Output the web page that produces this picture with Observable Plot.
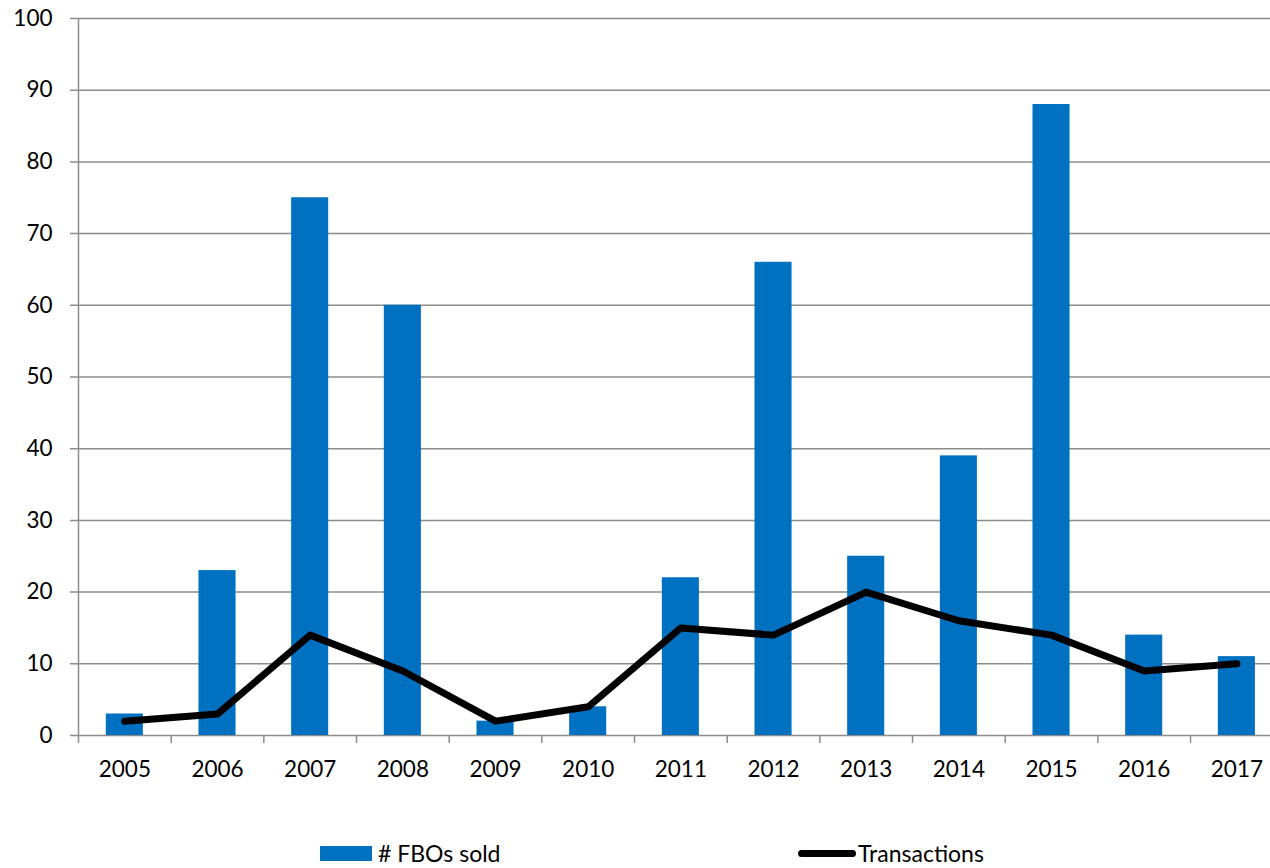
<!DOCTYPE html>
<html>
<head>
<meta charset="utf-8">
<script src="https://cdn.jsdelivr.net/npm/d3@7"></script>
<script src="https://cdn.jsdelivr.net/npm/@observablehq/plot@0.6"></script>
<style>
  html, body { margin: 0; padding: 0; background: #fff; }
  body { width: 1270px; height: 868px; position: relative; overflow: hidden; font-family: Lato, "Open Sans", sans-serif; }
  #chart { position: absolute; left: 0; top: 0; }
  #legend { position: absolute; left: 0; top: 838px; width: 1270px; height: 30px; font-size: 23px; color: #000; }
  .item { position: absolute; top: 0; display: flex; align-items: center; height: 30px; }
  .sw-bar { width: 52px; height: 15px; background: #0070C0; margin-right: 6px; }
  .sw-line { width: 58px; height: 7px; background: #000; border-radius: 4px; margin-right: 2px; }
</style>
</head>
<body>
<div id="chart"></div>
<div id="legend">
  <div class="item" style="left:320px"><div class="sw-bar"></div><span id="l1"></span></div>
  <div class="item" style="left:798px"><div class="sw-line"></div><span id="l2"></span></div>
</div>
<script>
const years = ["2005","2006","2007","2008","2009","2010","2011","2012","2013","2014","2015","2016","2017"];
const fbosSold = [3, 23, 75, 60, 2, 4, 22, 66, 25, 39, 88, 14, 11];
const transactions = [2, 3, 14, 9, 2, 4, 15, 14, 20, 16, 14, 9, 10];
const yTicks = [0, 10, 20, 30, 40, 50, 60, 70, 80, 90, 100];
const seriesNames = ["# FBOs sold", "Transactions"];

document.getElementById("l1").textContent = seriesNames[0];
document.getElementById("l2").textContent = seriesNames[1];

const data = years.map((y, i) => ({year: y, fbos: fbosSold[i], tx: transactions[i]}));

const W = 1270, ML = 78, MR = 0;
const step = 92.67;

const chart = Plot.plot({
  width: W,
  height: 800,
  marginLeft: ML,
  marginRight: MR,
  marginTop: 18,
  marginBottom: 65,
  style: { fontFamily: "Lato, 'Open Sans', sans-serif", fontSize: "22.5px", color: "#000", background: "transparent", overflow: "hidden" },
  x: { domain: years, range: [ML, ML + step * years.length], round: false, paddingInner: 0.6, paddingOuter: 0.3, label: null },
  y: { domain: [0, 100], label: null },
  marks: [
    Plot.ruleY(yTicks, { y: d => d, stroke: "#8c8c8c", strokeWidth: 1.5, insetLeft: -8 }),
    Plot.barY(data, { x: "year", y: "fbos", fill: "#0070C0" }),
    Plot.ruleX([years[0]], { x: d => d, y1: 0, y2: 100, stroke: "#8c8c8c", strokeWidth: 1.5, dx: -step * 0.5 }),
    Plot.ruleX(years, { x: d => d, y1: 0, y2: -1.1, stroke: "#8c8c8c", strokeWidth: 1.5, dx: -step * 0.5 }),
    Plot.lineY(data, { x: "year", y: "tx", stroke: "#000", strokeWidth: 7, strokeLinecap: "round", strokeLinejoin: "round" }),
    Plot.axisY(yTicks, { tickSize: 0, tickPadding: 26, fontSize: 22.5, fill: "#000" }),
    Plot.axisX({ tickSize: 0, tickPadding: 26, fontSize: 22.5, fill: "#000" })
  ]
});
document.getElementById("chart").appendChild(chart);
</script>
</body>
</html>
